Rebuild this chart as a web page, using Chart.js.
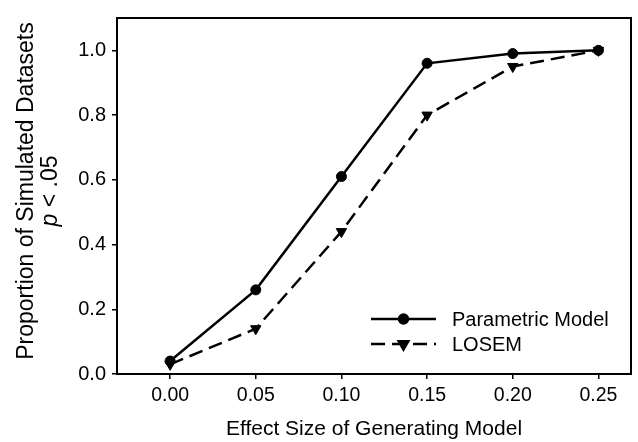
<!DOCTYPE html>
<html lang="en">
<head>
  <meta charset="UTF-8">
  <title>Proportion of Simulated Datasets p &lt; .05</title>
  <style>
    body { margin: 0; padding: 0; background: #fff; }
    #wrap { width: 638px; height: 442px; }
  </style>
  <script src="https://cdn.jsdelivr.net/npm/chart.js"></script>
</head>
<body>
  <div id="wrap"><canvas id="chartCanvas" width="638" height="442"></canvas></div>

  <script>
    // data
    const effectSizes = [0.00, 0.05, 0.10, 0.15, 0.20, 0.25];
    const parametric = [0.04, 0.26, 0.61, 0.96, 0.99, 1.00];
    const losem = [0.03, 0.14, 0.44, 0.80, 0.95, 1.00];
    const xTicks = [0.00, 0.05, 0.10, 0.15, 0.20, 0.25];
    const yTicks = [0.0, 0.2, 0.4, 0.6, 0.8, 1.0];
    const seriesNames = ['Parametric Model', 'LOSEM'];

    const FONT = 'Arial, "Liberation Sans", sans-serif';
    const DASH = [14, 7];

    // box around plot + y title (with italic p) + legend
    const extras = {
      id: 'extras',
      afterDraw(chart) {
        const ctx = chart.ctx, ca = chart.chartArea;
        ctx.save();
        ctx.strokeStyle = '#000';
        ctx.lineWidth = 2;
        ctx.strokeRect(ca.left, ca.top, ca.right - ca.left, ca.bottom - ca.top);

        // y axis title, two lines
        const cy = (ca.top + ca.bottom) / 2 - 5;
        ctx.fillStyle = '#000';
        ctx.textBaseline = 'alphabetic';
        ctx.save();
        ctx.translate(33, cy);
        ctx.rotate(-Math.PI / 2);
        ctx.font = '23px ' + FONT;
        ctx.textAlign = 'center';
        ctx.fillText('Proportion of Simulated Datasets', 0, 0);
        ctx.restore();

        ctx.save();
        ctx.translate(57, cy);
        ctx.rotate(-Math.PI / 2);
        ctx.textAlign = 'left';
        ctx.font = 'italic 23px ' + FONT;
        const wp = ctx.measureText('p').width;
        ctx.font = '23px ' + FONT;
        const wr = ctx.measureText(' < .05').width;
        const x0 = -(wp + wr) / 2;
        ctx.font = 'italic 23px ' + FONT;
        ctx.fillText('p', x0, 0);
        ctx.font = '23px ' + FONT;
        ctx.fillText(' < .05', x0 + wp, 0);
        ctx.restore();

        // legend
        const lx1 = ca.right - 260, lx2 = ca.right - 195, tx = ca.right - 179;
        const rows = [ca.bottom - 55, ca.bottom - 30];
        ctx.font = '20px ' + FONT;
        ctx.textBaseline = 'middle';
        ctx.textAlign = 'left';
        rows.forEach((y, i) => {
          const ds = chart.data.datasets[i];
          ctx.lineWidth = ds.borderWidth;
          ctx.setLineDash(ds.borderDash || []);
          ctx.beginPath();
          ctx.moveTo(lx1, y);
          ctx.lineTo(lx2, y);
          ctx.stroke();
          ctx.setLineDash([]);
          Chart.helpers.drawPoint(ctx, {
            pointStyle: ds.pointStyle,
            rotation: ds.pointRotation || 0,
            radius: ds.pointRadius - 0.5,
            borderWidth: 1
          }, (lx1 + lx2) / 2, y);
          ctx.fill();
          ctx.fillText(seriesNames[i], tx, y + 1);
        });
        ctx.restore();
      }
    };

    const ctx = document.getElementById('chartCanvas').getContext('2d');
    new Chart(ctx, {
      type: 'line',
      data: {
        datasets: [
          {
            label: seriesNames[0],
            data: effectSizes.map((x, i) => ({ x, y: parametric[i] })),
            borderColor: '#000', backgroundColor: '#000',
            borderWidth: 2.5,
            pointStyle: 'circle', pointRadius: 5,
            pointBorderWidth: 1, tension: 0
          },
          {
            label: seriesNames[1],
            data: effectSizes.map((x, i) => ({ x, y: losem[i] })),
            borderColor: '#000', backgroundColor: '#000',
            borderWidth: 2.5, borderDash: DASH,
            pointStyle: 'triangle', pointRotation: 180, pointRadius: 6,
            pointBorderWidth: 1, tension: 0
          }
        ]
      },
      options: {
        responsive: false,
        animation: false,
        layout: { padding: { left: 0, right: 5, top: 8, bottom: 0 } },
        plugins: { legend: { display: false }, tooltip: { enabled: false } },
        scales: {
          x: {
            type: 'linear',
            min: -0.031, max: 0.269,
            afterBuildTicks: s => { s.ticks = xTicks.map(v => ({ value: v })); },
            afterFit: s => { s.height = 68; },
            ticks: {
              callback: v => v.toFixed(2),
              color: '#000', padding: 5,
              font: { family: FONT, size: 19.5 },
              maxRotation: 0, autoSkip: false
            },
            grid: { drawOnChartArea: false, drawTicks: true, tickLength: 5, tickColor: '#000', lineWidth: 1.5 },
            border: { display: true, color: '#000', width: 2 },
            title: {
              display: true, text: 'Effect Size of Generating Model',
              color: '#000', font: { family: FONT, size: 21 },
              padding: { top: 0, bottom: 0 }
            }
          },
          y: {
            min: 0, max: 1.1,
            afterBuildTicks: s => { s.ticks = yTicks.map(v => ({ value: v })); },
            afterFit: s => { s.width = 117; },
            ticks: {
              callback: v => v.toFixed(1),
              color: '#000', padding: 6,
              font: { family: FONT, size: 20 }
            },
            grid: { drawOnChartArea: false, drawTicks: true, tickLength: 5, tickColor: '#000', lineWidth: 1.5 },
            border: { display: true, color: '#000', width: 2 }
          }
        }
      },
      plugins: [extras]
    });
  </script>
</body>
</html>
